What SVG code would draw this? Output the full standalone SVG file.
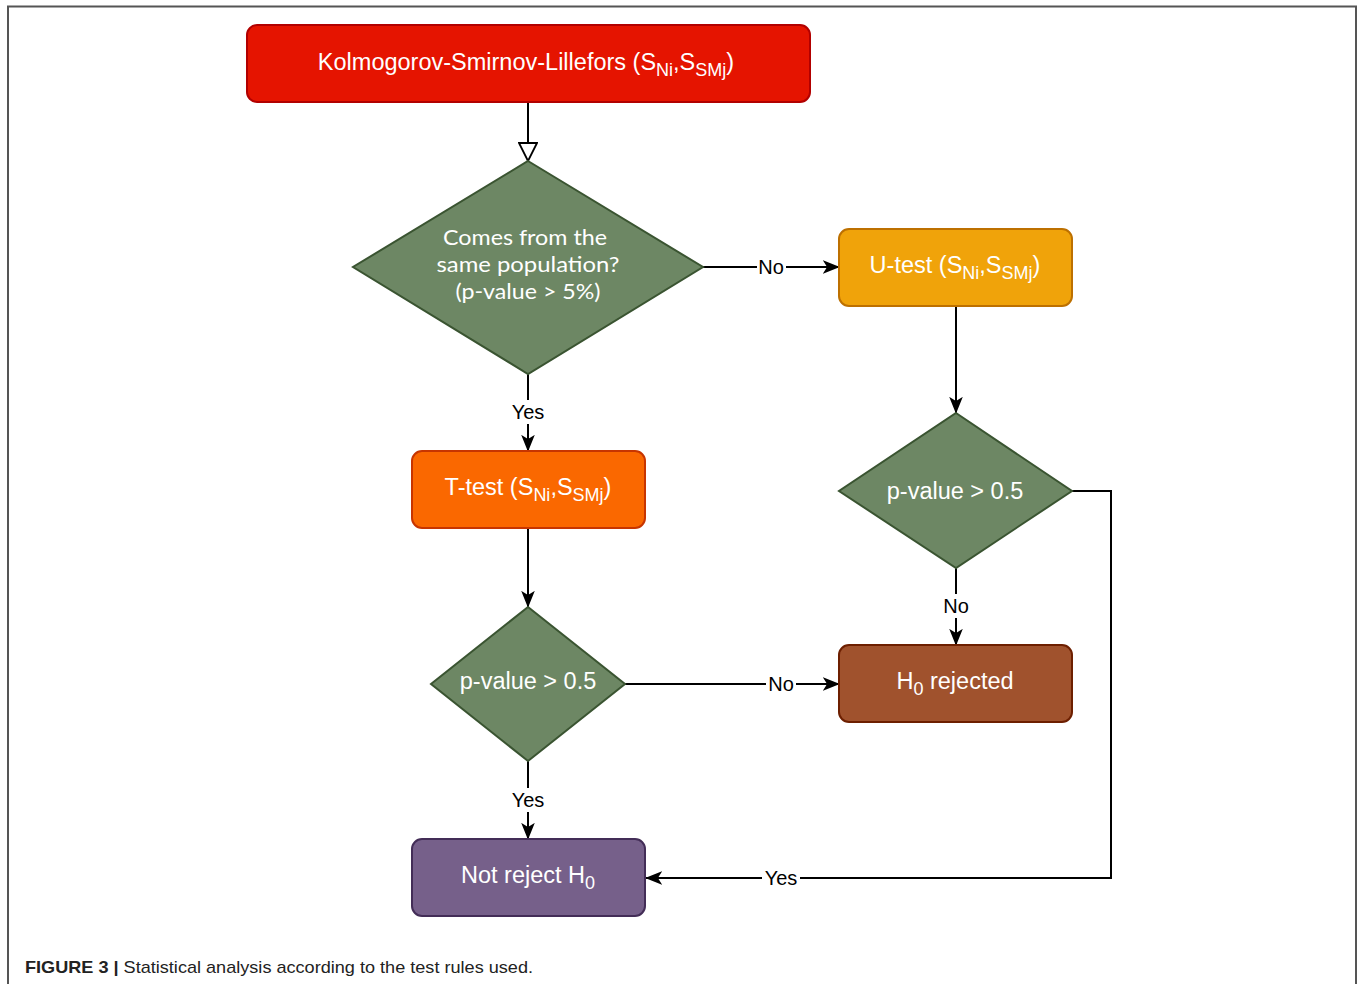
<svg xmlns="http://www.w3.org/2000/svg" width="1363" height="984" viewBox="0 0 1363 984">
<style>
.lbl{font-family:"Liberation Sans",Arial,sans-serif;font-size:23.5px;fill:#ffffff;text-anchor:middle}
.dtx{font-family:Lato,"Open Sans",sans-serif;font-size:22px;fill:#ffffff;text-anchor:middle}
.el{font-family:"Liberation Sans",Arial,sans-serif;font-size:20px;fill:#000000;text-anchor:middle}
.ln{fill:none;stroke:#000000;stroke-width:2}
.dia{fill:#6d8764;stroke:#3a5431;stroke-width:2}
.sub{font-size:18px}
</style>
<defs>
<marker id="ar" viewBox="0 0 20 20" refX="19" refY="10" markerWidth="17" markerHeight="17" markerUnits="userSpaceOnUse" orient="auto">
<path d="M0,2 L20,10 L0,18 L5,10 Z" fill="#000"/>
</marker>
<marker id="open" viewBox="0 0 20 20" refX="19" refY="10" markerWidth="20" markerHeight="20" markerUnits="userSpaceOnUse" orient="auto">
<path d="M1,1 L19,10 L1,19 Z" fill="#fff" stroke="#000" stroke-width="1.8"/>
</marker>
</defs>
<rect x="0" y="0" width="1363" height="984" fill="#ffffff"/>
<path d="M8,990 L8,6.5 L1356,6.5 L1356,990" fill="none" stroke="#555" stroke-width="2"/>

<g id="connectors">
<path class="ln" d="M528,102 L528,161" marker-end="url(#open)"/>
<path class="ln" d="M703,267 L839,267" marker-end="url(#ar)"/>
<path class="ln" d="M528,374 L528,451" marker-end="url(#ar)"/>
<path class="ln" d="M956,306 L956,413" marker-end="url(#ar)"/>
<path class="ln" d="M528,528 L528,607" marker-end="url(#ar)"/>
<path class="ln" d="M956,568 L956,645" marker-end="url(#ar)"/>
<path class="ln" d="M625,684 L839,684" marker-end="url(#ar)"/>
<path class="ln" d="M528,761 L528,839" marker-end="url(#ar)"/>
<path class="ln" d="M1072,491 L1111,491 L1111,878 L646,878" marker-end="url(#ar)"/>
<rect x="757" y="256" width="29" height="22" fill="#fff"/>
<text class="el" x="771" y="274">No</text>
<rect x="509" y="400" width="38" height="24" fill="#fff"/>
<text class="el" x="528" y="419">Yes</text>
<rect x="941" y="594" width="30" height="24" fill="#fff"/>
<text class="el" x="956" y="613">No</text>
<rect x="766" y="673" width="30" height="22" fill="#fff"/>
<text class="el" x="781" y="691">No</text>
<rect x="509" y="788" width="38" height="24" fill="#fff"/>
<text class="el" x="528" y="807">Yes</text>
<rect x="762" y="867" width="38" height="22" fill="#fff"/>
<text class="el" x="781" y="885">Yes</text>
</g>

<g id="ksl">
<rect x="247" y="25" width="563" height="77" rx="10" fill="#e51400" stroke="#b20000" stroke-width="2"/>
<text class="lbl" x="526" y="70">Kolmogorov-Smirnov-Lillefors (S<tspan class="sub" dy="6">Ni</tspan><tspan dy="-6">,S</tspan><tspan class="sub" dy="6">SMj</tspan><tspan dy="-6">)</tspan></text>
</g>

<g id="same-pop">
<polygon class="dia" points="528,161 703,267 528,374 353,267"/>
<text class="dtx" x="525" y="245" textLength="164" lengthAdjust="spacingAndGlyphs">Comes from the</text>
<text class="dtx" x="528" y="272" textLength="183" lengthAdjust="spacingAndGlyphs">same population?</text>
<text class="dtx" x="528" y="299" textLength="145" lengthAdjust="spacingAndGlyphs">(p-value &gt; 5%)</text>
</g>

<g id="utest">
<rect x="839" y="229" width="233" height="77" rx="10" fill="#f0a30a" stroke="#bd7000" stroke-width="2"/>
<text class="lbl" x="955" y="273">U-test (S<tspan class="sub" dy="6">Ni</tspan><tspan dy="-6">,S</tspan><tspan class="sub" dy="6">SMj</tspan><tspan dy="-6">)</tspan></text>
</g>

<g id="ttest">
<rect x="412" y="451" width="233" height="77" rx="10" fill="#fa6800" stroke="#c73500" stroke-width="2"/>
<text class="lbl" x="528" y="495">T-test (S<tspan class="sub" dy="6">Ni</tspan><tspan dy="-6">,S</tspan><tspan class="sub" dy="6">SMj</tspan><tspan dy="-6">)</tspan></text>
</g>

<g id="pval-right">
<polygon class="dia" points="956,413 1072,491 956,568 839,491"/>
<text class="lbl" x="955" y="499">p-value &gt; 0.5</text>
</g>

<g id="pval-left">
<polygon class="dia" points="528,607 625,684 528,761 431,684"/>
<text class="lbl" x="528" y="689">p-value &gt; 0.5</text>
</g>

<g id="h0-rejected">
<rect x="839" y="645" width="233" height="77" rx="10" fill="#a0522d" stroke="#6d1f00" stroke-width="2"/>
<text class="lbl" x="955" y="689">H<tspan class="sub" dy="6">0</tspan><tspan dy="-6"> rejected</tspan></text>
</g>

<g id="not-reject">
<rect x="412" y="839" width="233" height="77" rx="10" fill="#76608a" stroke="#432d57" stroke-width="2"/>
<text class="lbl" x="528" y="883">Not reject H<tspan class="sub" dy="6">0</tspan></text>
</g>

<text x="25" y="973" font-family="Liberation Sans,Arial,sans-serif" font-size="17" fill="#222" textLength="508" lengthAdjust="spacingAndGlyphs"><tspan font-weight="bold">FIGURE 3 | </tspan>Statistical analysis according to the test rules used.</text>
</svg>
